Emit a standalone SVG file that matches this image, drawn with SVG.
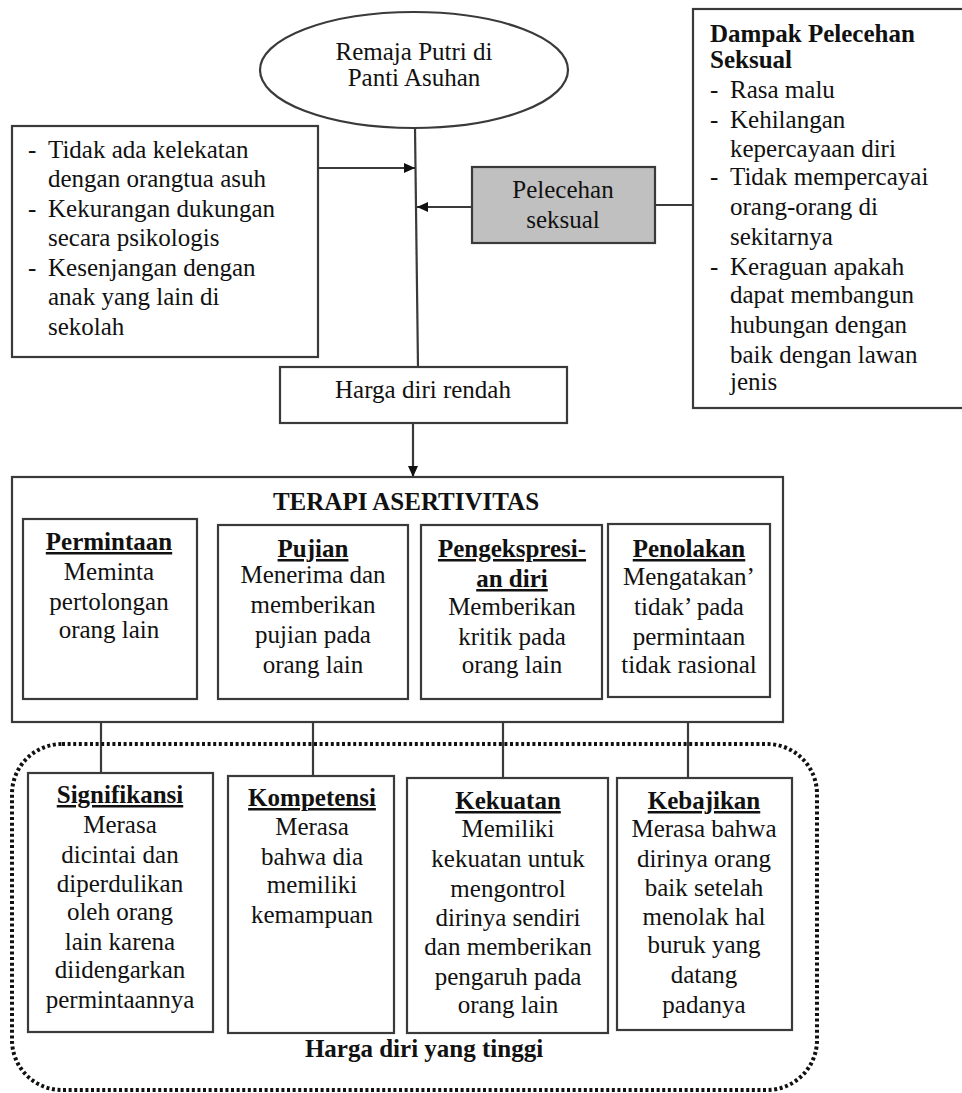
<svg xmlns="http://www.w3.org/2000/svg" width="962" height="1093" viewBox="0 0 962 1093">
<style>
text{font-family:"Liberation Serif","Times New Roman",serif;font-size:25px;fill:#111;}
.c{text-anchor:middle;}
.b{font-weight:bold;}
.u{font-weight:bold;text-decoration:underline;}
.box{fill:#fff;stroke:#3a3a3a;stroke-width:2.2;}
.ln{stroke:#3a3a3a;stroke-width:2.2;fill:none;}
</style>
<defs>
<marker id="ah" markerUnits="userSpaceOnUse" markerWidth="12" markerHeight="12" refX="11" refY="6" orient="auto">
<path d="M0,1 L11,6 L0,11 z" fill="#111"/>
</marker>
</defs>
<rect width="962" height="1093" fill="#fff"/>

<g id="connectors">
<line class="ln" x1="415" y1="128" x2="418" y2="367"/>
<line class="ln" x1="318" y1="168" x2="415" y2="168" marker-end="url(#ah)"/>
<line class="ln" x1="472" y1="207" x2="417" y2="207" marker-end="url(#ah)"/>
<line class="ln" x1="655" y1="205" x2="693" y2="205"/>
<line class="ln" x1="413" y1="423" x2="413" y2="477" marker-end="url(#ah)"/>
<line class="ln" x1="101" y1="699" x2="101" y2="773"/>
<line class="ln" x1="313" y1="699" x2="313" y2="776"/>
<line class="ln" x1="503" y1="699" x2="503" y2="778"/>
<line class="ln" x1="688" y1="697" x2="688" y2="778"/>
</g>

<g id="remaja">
<ellipse cx="414" cy="70" rx="154" ry="58" class="box"/>
<text x="414" y="60" class="c">Remaja Putri di</text>
<text x="414" y="86" class="c">Panti Asuhan</text>
</g>

<g id="faktor">
<rect x="12" y="126" width="306" height="231" class="box"/>
<text x="28" y="158">-</text><text x="48" y="158">Tidak ada kelekatan</text>
<text x="48" y="187">dengan orangtua asuh</text>
<text x="28" y="217">-</text><text x="48" y="217">Kekurangan dukungan</text>
<text x="48" y="246">secara psikologis</text>
<text x="28" y="276">-</text><text x="48" y="276">Kesenjangan dengan</text>
<text x="48" y="305">anak yang lain di</text>
<text x="48" y="335">sekolah</text>
</g>

<g id="pelecehan">
<rect x="472" y="167" width="183" height="76" fill="#c0c0c0" stroke="#3a3a3a" stroke-width="2.2"/>
<text x="563" y="198" class="c">Pelecehan</text>
<text x="563" y="228" class="c">seksual</text>
</g>

<g id="dampak">
<rect x="693" y="9" width="285" height="399" class="box"/>
<text x="710" y="42" class="b">Dampak Pelecehan</text>
<text x="710" y="68" class="b">Seksual</text>
<text x="710" y="98">-</text><text x="730" y="98">Rasa malu</text>
<text x="710" y="128">-</text><text x="730" y="128">Kehilangan</text>
<text x="730" y="157">kepercayaan diri</text>
<text x="710" y="185">-</text><text x="730" y="185">Tidak mempercayai</text>
<text x="730" y="215">orang-orang di</text>
<text x="730" y="245">sekitarnya</text>
<text x="710" y="275">-</text><text x="730" y="275">Keraguan apakah</text>
<text x="730" y="303">dapat membangun</text>
<text x="730" y="333">hubungan dengan</text>
<text x="730" y="363">baik dengan lawan</text>
<text x="730" y="390">jenis</text>
</g>

<g id="harga-rendah">
<rect x="280" y="367" width="287" height="56" class="box"/>
<text x="423" y="398" class="c">Harga diri rendah</text>
</g>

<g id="terapi">
<rect x="12" y="477" width="771" height="245" class="box"/>
<text x="406" y="510" class="c b">TERAPI ASERTIVITAS</text>
</g>

<g id="permintaan">
<rect x="23" y="519" width="174" height="180" class="box"/>
<text x="109" y="550" class="c u">Permintaan</text>
<text x="109" y="580" class="c">Meminta</text>
<text x="109" y="610" class="c">pertolongan</text>
<text x="109" y="638" class="c">orang lain</text>
</g>

<g id="pujian">
<rect x="218" y="525" width="190" height="174" class="box"/>
<text x="313" y="557" class="c u">Pujian</text>
<text x="313" y="583" class="c">Menerima dan</text>
<text x="313" y="613" class="c">memberikan</text>
<text x="313" y="643" class="c">pujian pada</text>
<text x="313" y="673" class="c">orang lain</text>
</g>

<g id="pengekspresian">
<rect x="421" y="525" width="181" height="174" class="box"/>
<text x="512" y="557" class="c u">Pengekspresi-</text>
<text x="512" y="587" class="c u">an diri</text>
<text x="512" y="615" class="c">Memberikan</text>
<text x="512" y="645" class="c">kritik pada</text>
<text x="512" y="673" class="c">orang lain</text>
</g>

<g id="penolakan">
<rect x="608" y="524" width="162" height="173" class="box"/>
<text x="689" y="557" class="c u">Penolakan</text>
<text x="689" y="585" class="c">Mengatakan’</text>
<text x="689" y="615" class="c">tidak’ pada</text>
<text x="689" y="645" class="c">permintaan</text>
<text x="689" y="673" class="c">tidak rasional</text>
</g>

<g id="harga-tinggi">
<rect x="12" y="744" width="805" height="346" rx="50" ry="50" fill="none" stroke="#111" stroke-width="4" stroke-dasharray="3 2.6"/>
<text x="424" y="1057" class="c b">Harga diri yang tinggi</text>
</g>

<g id="signifikansi">
<rect x="28" y="773" width="185" height="259" class="box"/>
<text x="120" y="803" class="c u">Signifikansi</text>
<text x="120" y="833" class="c">Merasa</text>
<text x="120" y="863" class="c">dicintai dan</text>
<text x="120" y="892" class="c">diperdulikan</text>
<text x="120" y="920" class="c">oleh orang</text>
<text x="120" y="950" class="c">lain karena</text>
<text x="120" y="978" class="c">diidengarkan</text>
<text x="120" y="1008" class="c">permintaannya</text>
</g>

<g id="kompetensi">
<rect x="228" y="776" width="166" height="257" class="box"/>
<text x="312" y="806" class="c u">Kompetensi</text>
<text x="312" y="835" class="c">Merasa</text>
<text x="312" y="865" class="c">bahwa dia</text>
<text x="312" y="893" class="c">memiliki</text>
<text x="312" y="923" class="c">kemampuan</text>
</g>

<g id="kekuatan">
<rect x="407" y="778" width="201" height="255" class="box"/>
<text x="508" y="809" class="c u">Kekuatan</text>
<text x="508" y="837" class="c">Memiliki</text>
<text x="508" y="867" class="c">kekuatan untuk</text>
<text x="508" y="897" class="c">mengontrol</text>
<text x="508" y="926" class="c">dirinya sendiri</text>
<text x="508" y="955" class="c">dan memberikan</text>
<text x="508" y="985" class="c">pengaruh pada</text>
<text x="508" y="1013" class="c">orang lain</text>
</g>

<g id="kebajikan">
<rect x="617" y="778" width="175" height="252" class="box"/>
<text x="704" y="809" class="c u">Kebajikan</text>
<text x="704" y="837" class="c">Merasa bahwa</text>
<text x="704" y="867" class="c">dirinya orang</text>
<text x="704" y="896" class="c">baik setelah</text>
<text x="704" y="925" class="c">menolak hal</text>
<text x="704" y="953" class="c">buruk yang</text>
<text x="704" y="983" class="c">datang</text>
<text x="704" y="1013" class="c">padanya</text>
</g>
</svg>
